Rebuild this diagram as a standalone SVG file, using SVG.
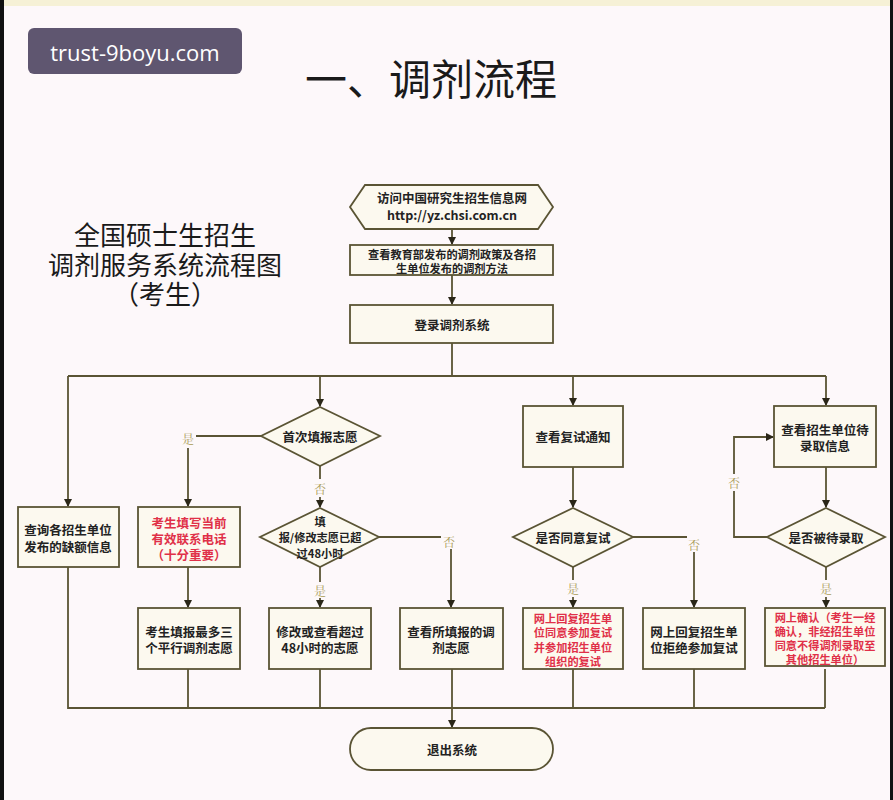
<svg xmlns="http://www.w3.org/2000/svg" width="893" height="800" viewBox="0 0 893 800">
<style>
.bg{fill:#fdf8fa}
.nd{fill:#fcf9ef;stroke:#5a5434;stroke-width:1.8}
.cn{fill:none;stroke:#5a5434;stroke-width:1.8}
.t{font-family:"Noto Sans CJK SC","Liberation Sans",sans-serif;font-size:12.5px;font-weight:bold;fill:#222;text-anchor:middle;dominant-baseline:central}
.r{fill:#e03048}
.s{font-size:11.2px}
.lb{font-family:"Noto Serif CJK SC","Noto Sans CJK SC",serif;font-size:12px;fill:#a89a55;text-anchor:middle;dominant-baseline:central}
.h{font-family:"Noto Sans CJK SC",sans-serif;fill:#1a1a1a;text-anchor:middle;dominant-baseline:central}
</style>
<defs>
<marker id="ah" markerWidth="8" markerHeight="8" refX="7" refY="4" orient="auto" markerUnits="userSpaceOnUse"><path d="M0,0 L8,4 L0,8 z" fill="#2a2618"/></marker>
</defs>
<rect class="bg" x="0" y="0" width="893" height="800"/>
<rect x="0" y="0" width="893" height="6" fill="#f6f1d6"/>
<rect x="0" y="0" width="4" height="800" fill="#111"/>
<rect x="890" y="0" width="3" height="800" fill="#111"/>
<g id="watermark">
<rect x="28" y="28" width="214" height="46" rx="6" fill="#5f5670"/>
<text x="135" y="52" font-family="Open Sans,Liberation Sans,sans-serif" font-size="22" fill="#fff" text-anchor="middle" dominant-baseline="central">trust-9boyu.com</text>
</g>
<g id="title"><text class="h" x="431" y="76" font-size="42">一、调剂流程</text></g>
<g id="subtitle">
<text class="h" x="165" y="233" font-size="26">全国硕士生招生</text>
<text class="h" x="165" y="263" font-size="26">调剂服务系统流程图</text>
<text class="h" x="165" y="292" font-size="26">（考生）</text>
</g>
<g id="connectors">
<path class="cn" d="M452,229 V244" marker-end="url(#ah)"/>
<path class="cn" d="M452,275 V304" marker-end="url(#ah)"/>
<path class="cn" d="M452,343 V376 M68,376 H826"/>
<path class="cn" d="M68,376 V506" marker-end="url(#ah)"/>
<path class="cn" d="M320,376 V406" marker-end="url(#ah)"/>
<path class="cn" d="M573,376 V405" marker-end="url(#ah)"/>
<path class="cn" d="M826,376 V405" marker-end="url(#ah)"/>
<path class="cn" d="M261,436 H196"/>
<path class="cn" d="M188,448 V506" marker-end="url(#ah)"/>
<path class="cn" d="M320,466 V479"/>
<path class="cn" d="M320,497 V507" marker-end="url(#ah)"/>
<path class="cn" d="M379,537 H441"/>
<path class="cn" d="M451,549 V607" marker-end="url(#ah)"/>
<path class="cn" d="M320,567 V582"/>
<path class="cn" d="M320,598 V607" marker-end="url(#ah)"/>
<path class="cn" d="M188,567 V607" marker-end="url(#ah)"/>
<path class="cn" d="M573,467 V507" marker-end="url(#ah)"/>
<path class="cn" d="M633,537 H687"/>
<path class="cn" d="M694,552 V607" marker-end="url(#ah)"/>
<path class="cn" d="M573,567 V580"/>
<path class="cn" d="M573,597 V607" marker-end="url(#ah)"/>
<path class="cn" d="M826,467 V507" marker-end="url(#ah)"/>
<path class="cn" d="M767,537 H734 V491"/>
<path class="cn" d="M734,474 V437 H773" marker-end="url(#ah)"/>
<path class="cn" d="M826,567 V580"/>
<path class="cn" d="M826,597 V607" marker-end="url(#ah)"/>
<path class="cn" d="M68,567 V708 H825 M188,669 V708 M320,669 V708 M573,669 V708 M694,669 V708 M825,669 V708"/>
<path class="cn" d="M452,669 V727" marker-end="url(#ah)"/>
<text class="lb" x="188" y="438">是</text>
<text class="lb" x="320" y="488">否</text>
<text class="lb" x="449" y="541">否</text>
<text class="lb" x="320" y="590">是</text>
<text class="lb" x="694" y="544">否</text>
<text class="lb" x="573" y="588">是</text>
<text class="lb" x="734" y="482">否</text>
<text class="lb" x="826" y="588">是</text>
</g>
<g id="visit">
<path class="nd" d="M350,207 L365,185 H538 L553,207 L538,229 H365 Z"/>
<text class="t" x="452" y="197">访问中国研究生招生信息网</text>
<text class="t" x="452" y="214" font-weight="normal" font-family="Liberation Sans,sans-serif" font-size="13">http://yz.chsi.com.cn</text>
</g>
<g id="policy">
<rect class="nd" x="350" y="245" width="203" height="30"/>
<text class="t s" x="452" y="254">查看教育部发布的调剂政策及各招</text>
<text class="t s" x="452" y="268">生单位发布的调剂方法</text>
</g>
<g id="login">
<rect class="nd" x="350" y="305" width="203" height="38"/>
<text class="t" x="452" y="324">登录调剂系统</text>
</g>
<g id="vacancy">
<rect class="nd" x="18" y="507" width="101" height="60"/>
<text class="t" x="68" y="529">查询各招生单位</text>
<text class="t" x="68" y="546">发布的缺额信息</text>
</g>
<g id="first">
<path class="nd" d="M320,407 L380,436 L320,466 L261,436 Z"/>
<text class="t" x="320" y="436">首次填报志愿</text>
</g>
<g id="phone">
<rect class="nd" x="138" y="507" width="102" height="60"/>
<text class="t r" x="189" y="522">考生填写当前</text>
<text class="t r" x="189" y="538">有效联系电话</text>
<text class="t r" x="189" y="554">（十分重要）</text>
</g>
<g id="over48">
<path class="nd" d="M320,508 L379,537 L320,567 L260,537 Z"/>
<text class="t s" x="320" y="521">填</text>
<text class="t s" x="320" y="537">报/修改志愿已超</text>
<text class="t s" x="320" y="553">过48小时</text>
</g>
<g id="fill3">
<rect class="nd" x="138" y="608" width="102" height="61"/>
<text class="t" x="189" y="631">考生填报最多三</text>
<text class="t" x="189" y="647">个平行调剂志愿</text>
</g>
<g id="modify">
<rect class="nd" x="269" y="608" width="102" height="61"/>
<text class="t" x="320" y="631">修改或查看超过</text>
<text class="t" x="320" y="647">48小时的志愿</text>
</g>
<g id="viewwish">
<rect class="nd" x="400" y="608" width="103" height="61"/>
<text class="t" x="451" y="631">查看所填报的调</text>
<text class="t" x="451" y="647">剂志愿</text>
</g>
<g id="retest">
<rect class="nd" x="523" y="406" width="100" height="61"/>
<text class="t" x="573" y="436">查看复试通知</text>
</g>
<g id="agree">
<path class="nd" d="M573,508 L633,537 L573,567 L513,537 Z"/>
<text class="t" x="573" y="537">是否同意复试</text>
</g>
<g id="accept">
<rect class="nd" x="523" y="608" width="100" height="61"/>
<text class="t r s" x="573" y="617.5">网上回复招生单</text>
<text class="t r s" x="573" y="632">位同意参加复试</text>
<text class="t r s" x="573" y="646.5">并参加招生单位</text>
<text class="t r s" x="573" y="661">组织的复试</text>
</g>
<g id="refuse">
<rect class="nd" x="643" y="608" width="102" height="61"/>
<text class="t" x="694" y="631">网上回复招生单</text>
<text class="t" x="694" y="647">位拒绝参加复试</text>
</g>
<g id="pending">
<rect class="nd" x="774" y="406" width="102" height="61"/>
<text class="t" x="825" y="429">查看招生单位待</text>
<text class="t" x="825" y="445">录取信息</text>
</g>
<g id="admitted">
<path class="nd" d="M826,508 L885,537 L826,567 L767,537 Z"/>
<text class="t" x="826" y="537">是否被待录取</text>
</g>
<g id="confirm">
<rect class="nd" x="765" y="608" width="120" height="58"/>
<text class="t r s" x="825" y="616.5">网上确认（考生一经</text>
<text class="t r s" x="825" y="630.5">确认，非经招生单位</text>
<text class="t r s" x="825" y="644.5">同意不得调剂录取至</text>
<text class="t r s" x="825" y="658.5">其他招生单位）</text>
</g>
<g id="exit">
<rect class="nd" x="350" y="728" width="203" height="42" rx="21"/>
<text class="t" x="452" y="749">退出系统</text>
</g>
</svg>
